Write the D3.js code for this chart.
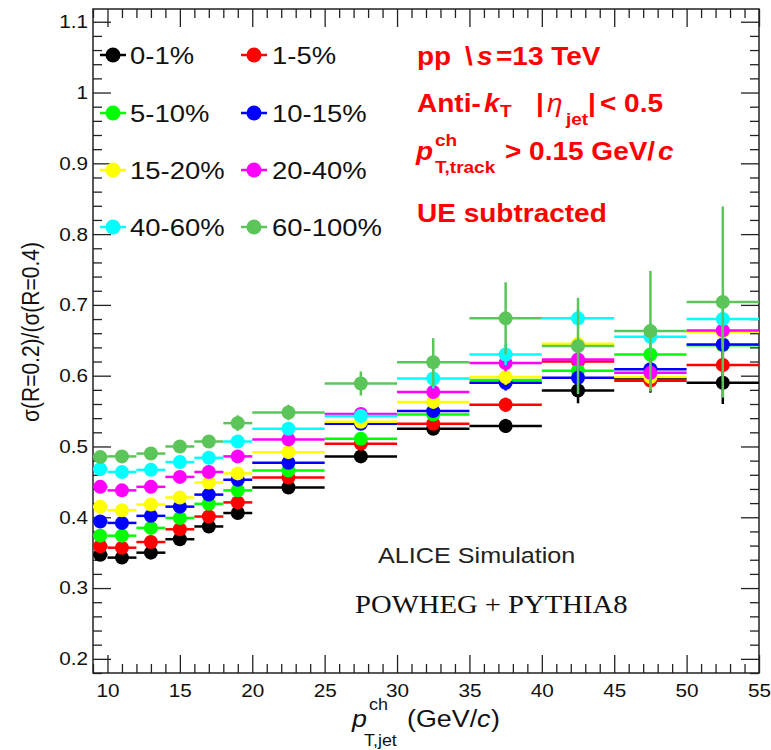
<!DOCTYPE html>
<html>
<head>
<meta charset="utf-8">
<script src="https://cdn.jsdelivr.net/npm/d3@7"></script>
<style>
  body { margin: 0; background: #fff; }
  text { font-family: "Liberation Sans", Arial, sans-serif; }
</style>
</head>
<body>
<div id="chart"></div>
<script>
// pT,jet bins (GeV/c)
var binLow    = [9, 10, 12, 14, 16, 18, 20, 25, 30, 35, 40, 45, 50];
var binHigh   = [10, 12, 14, 16, 18, 20, 25, 30, 35, 40, 45, 50, 55];
var binCenter = [9.5, 11, 13, 15, 17, 19, 22.5, 27.5, 32.5, 37.5, 42.5, 47.5, 52.5];

// multiplicity classes, legend order
var classes = ["0-1%", "1-5%", "5-10%", "10-15%", "15-20%", "20-40%", "40-60%", "60-100%"];
var colors  = ["#000000", "#ff0000", "#00ff00", "#0000ff", "#ffff00", "#ff00ff", "#00ffff", "#5cc55a"];

// sigma(R=0.2)/sigma(R=0.4) per class
var ratio0_1    = [0.347, 0.343, 0.350, 0.369, 0.387, 0.406, 0.442, 0.486, 0.525, 0.529, 0.579, 0.596, 0.590];
var ratio1_5    = [0.359, 0.357, 0.365, 0.383, 0.401, 0.421, 0.456, 0.504, 0.532, 0.559, 0.620, 0.593, 0.615];
var ratio5_10   = [0.374, 0.374, 0.385, 0.399, 0.419, 0.438, 0.466, 0.511, 0.545, 0.594, 0.607, 0.630, 0.643];
var ratio10_15  = [0.394, 0.392, 0.402, 0.415, 0.432, 0.453, 0.477, 0.532, 0.550, 0.590, 0.597, 0.609, 0.644];
var ratio15_20  = [0.415, 0.410, 0.418, 0.428, 0.449, 0.462, 0.492, 0.535, 0.563, 0.598, 0.645, 0.598, 0.662];
var ratio20_40  = [0.443, 0.438, 0.443, 0.457, 0.464, 0.486, 0.510, 0.546, 0.577, 0.618, 0.623, 0.604, 0.664];
var ratio40_60  = [0.468, 0.464, 0.467, 0.478, 0.484, 0.507, 0.525, 0.543, 0.596, 0.630, 0.681, 0.655, 0.680];
var ratio60_100 = [0.485, 0.486, 0.490, 0.500, 0.507, 0.533, 0.548, 0.589, 0.619, 0.681, 0.642, 0.663, 0.704];

// statistical errors
var err0_1    = [0.003, 0.003, 0.003, 0.003, 0.003, 0.004, 0.004, 0.006, 0.007, 0.010, 0.018, 0.020, 0.030];
var err1_5    = [0.003, 0.003, 0.003, 0.003, 0.003, 0.004, 0.004, 0.006, 0.008, 0.010, 0.014, 0.016, 0.022];
var err5_10   = [0.003, 0.003, 0.003, 0.003, 0.004, 0.004, 0.005, 0.006, 0.008, 0.010, 0.014, 0.016, 0.022];
var err10_15  = [0.003, 0.003, 0.003, 0.003, 0.004, 0.004, 0.005, 0.007, 0.008, 0.011, 0.014, 0.016, 0.022];
var err15_20  = [0.003, 0.003, 0.003, 0.004, 0.004, 0.005, 0.005, 0.007, 0.009, 0.011, 0.015, 0.017, 0.024];
var err20_40  = [0.003, 0.003, 0.003, 0.004, 0.004, 0.005, 0.005, 0.007, 0.009, 0.012, 0.015, 0.018, 0.025];
var err40_60  = [0.004, 0.004, 0.004, 0.005, 0.006, 0.007, 0.008, 0.010, 0.014, 0.015, 0.013, 0.020, 0.030];
var err60_100 = [0.005, 0.005, 0.005, 0.006, 0.007, 0.011, 0.011, 0.017, 0.034, 0.051, 0.068, 0.085, 0.135];

var ratios = [ratio0_1, ratio1_5, ratio5_10, ratio10_15, ratio15_20, ratio20_40, ratio40_60, ratio60_100];
var errors = [err0_1, err1_5, err5_10, err10_15, err15_20, err20_40, err40_60, err60_100];

// axis ticks
var xTickValues = [10, 15, 20, 25, 30, 35, 40, 45, 50, 55];
var yTickValues = [0.2, 0.3, 0.4, 0.5, 0.6, 0.7, 0.8, 0.9, 1.0, 1.1];
var yTickLabels = ["0.2", "0.3", "0.4", "0.5", "0.6", "0.7", "0.8", "0.9", "1", "1.1"];

// Set up chart
var svgWidth = 771;
var svgHeight = 750;
var margin = { top: 9, right: 12, bottom: 77, left: 93 };
var width = svgWidth - margin.left - margin.right;
var height = svgHeight - margin.top - margin.bottom;
var SX = 1.12; // the original text is a little wide
var frameColor = "#222";

var svg = d3.select("#chart")
  .append("svg")
    .attr("width", svgWidth)
    .attr("height", svgHeight);

var chartGroup = svg.append("g")
  .attr("transform", `translate(${margin.left}, ${margin.top})`);

var xScale = d3.scaleLinear().domain([9, 55]).range([0, width]);
var yScale = d3.scaleLinear().domain([0.18, 1.118]).range([height, 0]);

// minor ticks
var xMinor = d3.range(9, 56).filter(d => d % 5 !== 0);
var yMinor = d3.range(9, 56).map(d => d * 0.02).filter(d => d <= 1.11 && Math.abs(d * 10 - Math.round(d * 10)) > 1e-6);

function styleAxis(g) {
  g.select(".domain").remove();
  g.selectAll("line").attr("stroke", frameColor).attr("stroke-width", 1.3);
}

// bottom axis (ticks pointing in)
chartGroup.append("g")
  .attr("transform", "translate(0," + height + ")")
  .call(d3.axisBottom(xScale).tickValues(xTickValues).tickSizeInner(-18).tickSizeOuter(0).tickPadding(11))
  .call(styleAxis)
  .call(g => g.selectAll("text")
    .attr("fill", "#111")
    .style("font-size", "18.5px")
    .attr("transform", `scale(${SX},1)`));
chartGroup.append("g")
  .attr("transform", "translate(0," + height + ")")
  .call(d3.axisBottom(xScale).tickValues(xMinor).tickSizeInner(-9).tickSizeOuter(0).tickFormat(""))
  .call(styleAxis);

// top axis
chartGroup.append("g")
  .call(d3.axisTop(xScale).tickValues(xTickValues).tickSizeInner(-18).tickSizeOuter(0).tickFormat(""))
  .call(styleAxis);
chartGroup.append("g")
  .call(d3.axisTop(xScale).tickValues(xMinor).tickSizeInner(-9).tickSizeOuter(0).tickFormat(""))
  .call(styleAxis);

// left axis
chartGroup.append("g")
  .call(d3.axisLeft(yScale).tickValues(yTickValues).tickSizeInner(-18).tickSizeOuter(0)
    .tickFormat((d, i) => yTickLabels[i]))
  .call(styleAxis)
  .call(g => g.selectAll("text")
    .attr("x", 0)
    .attr("fill", "#111")
    .style("font-size", "18.5px")
    .attr("transform", `translate(-5,0) scale(${SX},1)`));
chartGroup.append("g")
  .call(d3.axisLeft(yScale).tickValues(yMinor).tickSizeInner(-9).tickSizeOuter(0).tickFormat(""))
  .call(styleAxis);

// right axis
chartGroup.append("g")
  .attr("transform", "translate(" + width + ",0)")
  .call(d3.axisRight(yScale).tickValues(yTickValues).tickSizeInner(-18).tickSizeOuter(0).tickFormat(""))
  .call(styleAxis);
chartGroup.append("g")
  .attr("transform", "translate(" + width + ",0)")
  .call(d3.axisRight(yScale).tickValues(yMinor).tickSizeInner(-9).tickSizeOuter(0).tickFormat(""))
  .call(styleAxis);

// frame
chartGroup.append("rect")
  .attr("width", width)
  .attr("height", height)
  .attr("fill", "none")
  .attr("stroke", frameColor)
  .attr("stroke-width", 1.5);

// data points with error bars
var dataGroup = chartGroup.append("g");
ratios.forEach(function(vals, s) {
  var pts = vals.map(function(v, i) {
    return { lo: binLow[i], hi: binHigh[i], x: binCenter[i], y: v, e: errors[s][i] };
  });
  var g = dataGroup.append("g").attr("class", "series");
  g.selectAll(".hbar")
    .data(pts)
    .enter()
    .append("line")
      .attr("x1", d => xScale(d.lo))
      .attr("x2", d => xScale(d.hi))
      .attr("y1", d => yScale(d.y))
      .attr("y2", d => yScale(d.y))
      .attr("stroke", colors[s])
      .attr("stroke-width", 2.5);
  g.selectAll(".vbar")
    .data(pts)
    .enter()
    .append("line")
      .attr("x1", d => xScale(d.x))
      .attr("x2", d => xScale(d.x))
      .attr("y1", d => yScale(d.y - d.e))
      .attr("y2", d => yScale(d.y + d.e))
      .attr("stroke", colors[s])
      .attr("stroke-width", 2.5);
  g.selectAll("circle")
    .data(pts)
    .enter()
    .append("circle")
      .attr("cx", d => xScale(d.x))
      .attr("cy", d => yScale(d.y))
      .attr("r", 7)
      .style("fill", colors[s]);
});

// helper for stretched text pieces
function txt(x, y, s, size, opts) {
  opts = opts || {};
  var sx = opts.sx || SX;
  return svg.append("text")
    .attr("transform", `translate(${x},${y}) scale(${sx},1)`)
    .style("font-size", size + "px")
    .style("font-weight", opts.bold ? "bold" : "normal")
    .style("font-style", opts.italic ? "italic" : "normal")
    .style("font-family", opts.family || null)
    .attr("fill", opts.color || "#111")
    .text(s);
}

// legend
var legRows = [55, 113, 170, 227];
var legMarkX = [113, 254];
var legTextX = [130, 272];
classes.forEach(function(c, i) {
  var row = Math.floor(i / 2), col = i % 2;
  var cy = legRows[row];
  svg.append("line")
    .attr("x1", legMarkX[col] - 13).attr("x2", legMarkX[col] + 13)
    .attr("y1", cy).attr("y2", cy)
    .attr("stroke", colors[i]).attr("stroke-width", 2.5);
  svg.append("circle")
    .attr("cx", legMarkX[col]).attr("cy", cy).attr("r", 7.5)
    .style("fill", colors[i]);
  txt(legTextX[col], cy + 8.5, c, 24.5);
});

// red labels
var red = { color: "#ff0000", bold: true };
var redIt = { color: "#ff0000", bold: true, italic: true };
txt(417, 65, "pp", 25, red);
txt(465, 65, "\\", 25, red);
txt(477, 65, "s", 25, redIt);
txt(496, 65, "=13 TeV", 25, red);

txt(417, 112, "Anti-", 25, red);
txt(484, 112, "k", 25, redIt);
txt(500, 117, "T", 17, red);
txt(536, 112, "|", 25, red);
txt(547, 112, "η", 25, { color: "#ff0000", italic: true });
txt(566, 125, "jet", 17, red);
txt(588, 112, "|", 25, red);
txt(600, 112, "< 0.5", 25, red);

txt(416, 160, "p", 25, redIt);
txt(435, 146, "ch", 17, red);
txt(435, 173, "T,track", 17, red);
txt(505, 160, "> 0.15 GeV/", 25, red);
txt(658, 160, "c", 25, redIt);

txt(417, 222, "UE subtracted", 25, red);

// simulation labels
txt(378, 563, "ALICE Simulation", 22.5, { color: "#222" });
txt(355, 613, "POWHEG + PYTHIA8", 24.5, { color: "#111", sx: 1.17, family: "'Liberation Serif', 'Times New Roman', serif" });

// x axis title
txt(352, 727, "p", 24, { italic: true });
txt(369, 710, "ch", 16);
txt(364, 746, "T,jet", 16);
txt(407, 727, "(GeV/", 24);
txt(477, 727, "c", 24, { italic: true });
txt(491, 727, ")", 24);

// y axis title
svg.append("text")
  .attr("transform", `translate(39, 332) scale(${SX},1) rotate(-90)`)
  .attr("text-anchor", "middle")
  .style("font-size", "21px")
  .attr("fill", "#111")
  .text("σ(R=0.2)/(σ(R=0.4)");
</script>
</body>
</html>
